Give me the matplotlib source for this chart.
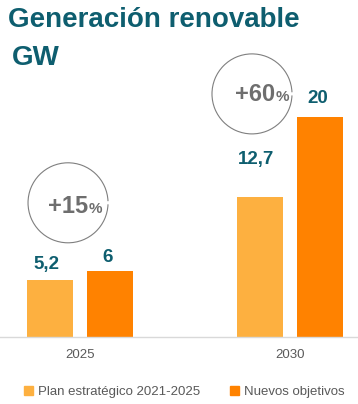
import matplotlib.pyplot as plt
import matplotlib.patches as mpatches
from matplotlib.patches import Arc
import numpy as np

plt.rcParams['font.family'] = ['Liberation Sans', 'DejaVu Sans']

# data
years = ['2025', '2030']
plan_values = [5.2, 12.7]
new_values = [6, 20]
plan_labels = ['5,2', '12,7']
new_labels = ['6', '20']
growth_labels = ['+15', '+60']
series_names = ['Plan estratégico 2021-2025', 'Nuevos objetivos']

# colors
color_plan = '#FDB040'
color_new = '#FF8200'
color_teal = '#0E5E6F'
color_gray = '#6E6E6E'

fig = plt.figure(figsize=(3.58, 4.04), dpi=100)
ax = fig.add_axes([0, 1 - 337 / 404, 1, 257 / 404])

x = np.arange(len(years))
bar_w = 0.219
off = 0.145

ax.bar(x - off, plan_values, bar_w, color=color_plan, zorder=2)
ax.bar(x + off, new_values, bar_w, color=color_new, zorder=2)

ax.set_xlim(-80 / 210, 278 / 210)
ax.set_ylim(0, 257 / 11)

# value labels (offsets in points above bar tops)
plan_pad = [8, 24]
new_pad = [6.5, 10]
for i in range(len(years)):
    ax.annotate(plan_labels[i], (x[i] - off - 0.015, plan_values[i]), xytext=(0, plan_pad[i]),
                textcoords='offset points', ha='center', va='baseline',
                fontsize=13.5, fontweight='bold', color=color_teal)
    ax.annotate(new_labels[i], (x[i] + off - 0.015, new_values[i]), xytext=(0, new_pad[i]),
                textcoords='offset points', ha='center', va='baseline',
                fontsize=13.5, fontweight='bold', color=color_teal)

# growth circles
circle_centers = [(-0.057, 12.2), (0.819, 22.1)]
growth_pos = [(0.038, 11.27), (0.929, 21.45)]
for (cx, cy), (tx, ty), g in zip(circle_centers, growth_pos, growth_labels):
    arc = Arc((cx, cy), 80 / 210, 80 / 11, theta1=38, theta2=324,
              color='#7F7F7F', linewidth=0.8, zorder=3, clip_on=False)
    ax.add_patch(arc)
    ax.text(tx, ty, g, ha='right', va='baseline', fontsize=17,
            fontweight='bold', color=color_gray)
    ax.text(tx + 0.003, ty, '%', ha='left', va='baseline', fontsize=11,
            fontweight='bold', color=color_gray)

# axes styling
for s in ['top', 'left', 'right']:
    ax.spines[s].set_visible(False)
ax.spines['bottom'].set_color('#D9D9D9')
ax.spines['bottom'].set_linewidth(1)
ax.set_yticks([])
ax.set_xticks(x)
ax.set_xticklabels(years, fontsize=9.5, color='#595959')
ax.tick_params(axis='x', length=0, pad=9)

# titles
fig.text(8 / 358, 1 - 27 / 404, 'Generación renovable', fontsize=20,
         fontweight='bold', color=color_teal, va='baseline', ha='left')
fig.text(12 / 358, 1 - 65 / 404, 'GW', fontsize=20,
         fontweight='bold', color=color_teal, va='baseline', ha='left')

# legend
handles = [mpatches.Patch(color=color_plan, label=series_names[0]),
           mpatches.Patch(color=color_new, label=series_names[1])]
fig.legend(handles=handles, loc='center', bbox_to_anchor=(0.515, 1 - 392 / 404),
           ncol=2, frameon=False, fontsize=9.5, labelcolor='#595959',
           handlelength=0.7, handleheight=0.7, handletextpad=0.4,
           columnspacing=2.2, borderpad=0)

fig.savefig('out.png', dpi=100)
